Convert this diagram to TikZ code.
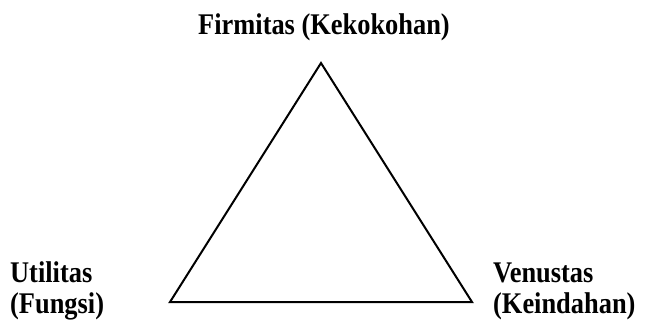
\documentclass[tikz,border=0pt]{standalone}
\usepackage{fontspec}
\setmainfont{Liberation Serif}
\tikzset{
  label text/.style={font=\fontsize{30}{31}\selectfont\bfseries, inner sep=0pt,
    align=left, transform shape, xscale=0.88},
  side/.style={line width=2pt, line join=miter}
}
\begin{document}
\begin{tikzpicture}[x=1pt,y=-1pt]
\useasboundingbox (0,0) rectangle (665,335);
\coordinate (top) at (321,63);
\coordinate (left) at (170,302);
\coordinate (right) at (472,302);
\draw[side] (top) -- (left) -- (right) -- cycle;
\node[label text, anchor=base] (firmitas) at (324,34) {Firmitas (Kekokohan)};
\node[label text, anchor=base west] (utilitas) at (10,313) {Utilitas\\(Fungsi)};
\node[label text, anchor=base west] (venustas) at (493,313) {Venustas\\(Keindahan)};
\end{tikzpicture}
\end{document}
